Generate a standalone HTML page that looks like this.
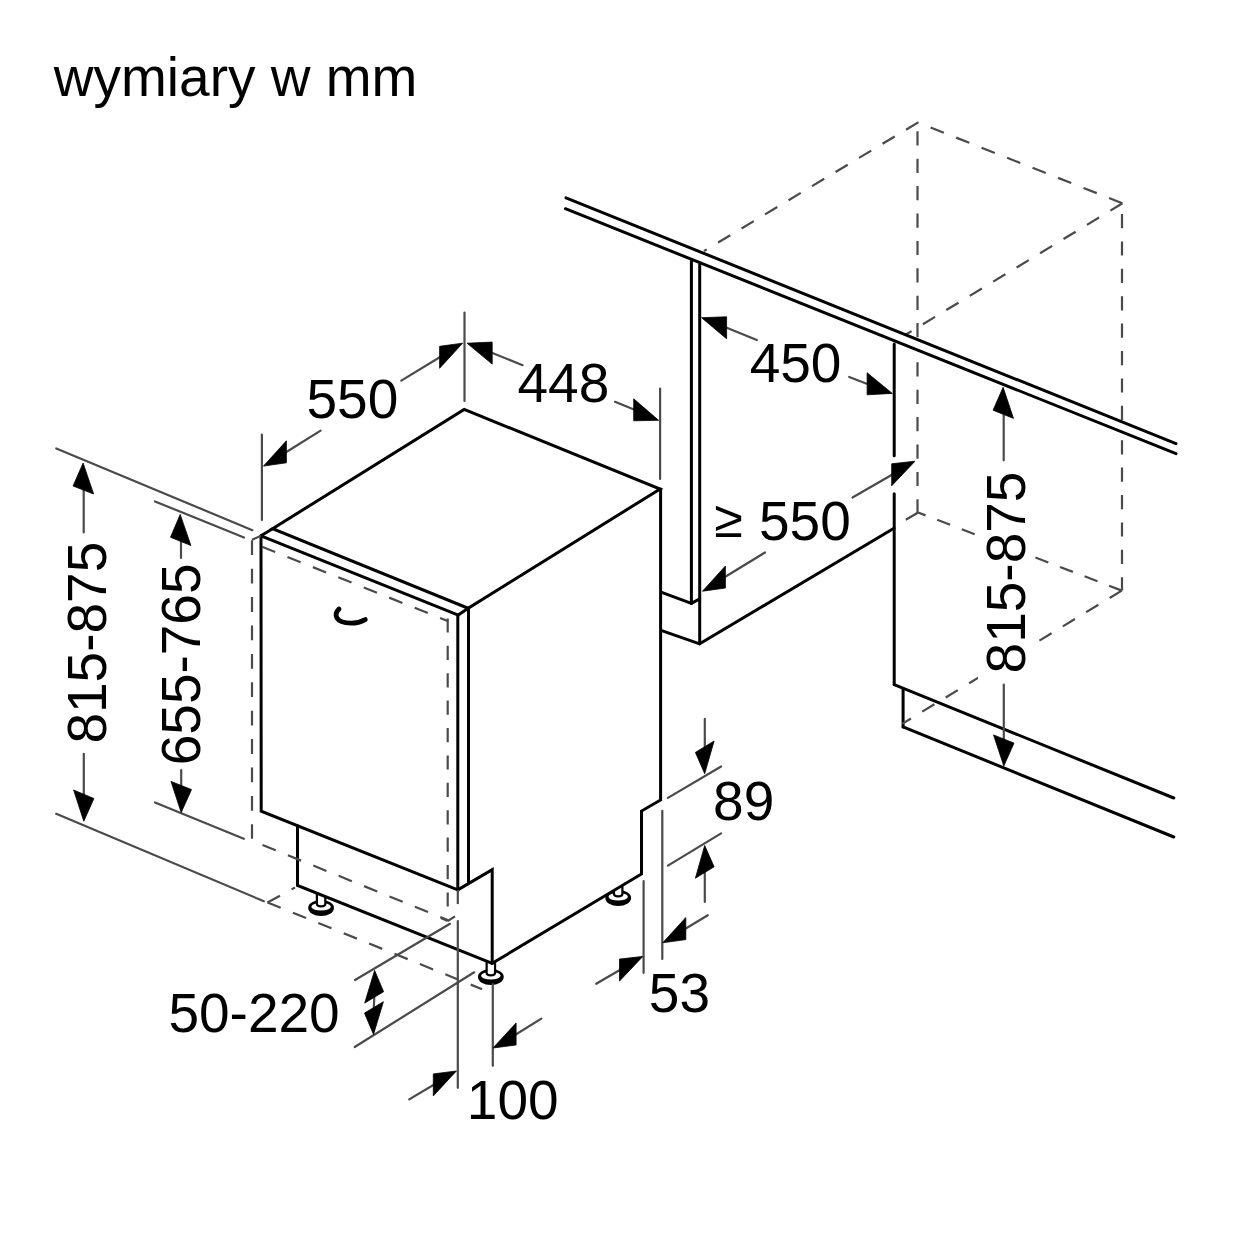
<!DOCTYPE html>
<html><head><meta charset="utf-8"><style>
html,body{margin:0;padding:0;background:#fff;}
body{width:1240px;height:1240px;overflow:hidden;}
svg{display:block;}
text{font-family:"Liberation Sans",sans-serif;fill:#000;}
</style></head><body>
<svg width="1240" height="1240" viewBox="0 0 1240 1240">
<rect width="1240" height="1240" fill="#fff"/>
<text x="53.8" y="95.6" font-size="55">wymiary w mm</text>
<line x1="691.4" y1="261.6" x2="691.4" y2="603.4" stroke="#000" stroke-width="3.0" stroke-linecap="round"/>
<line x1="699.7" y1="264.5" x2="699.7" y2="643.8" stroke="#000" stroke-width="3.0" stroke-linecap="round"/>
<path d="M661.0,592.1 L691.4,603.4 L699.7,598.9" fill="none" stroke="#000" stroke-width="3.0" stroke-linejoin="miter" stroke-linecap="round"/>
<line x1="661.0" y1="630.4" x2="699.7" y2="643.8" stroke="#000" stroke-width="3.0" stroke-linecap="round"/>
<line x1="699.7" y1="643.8" x2="894.0" y2="528.3" stroke="#000" stroke-width="3.0" stroke-linecap="round"/>
<line x1="894.2" y1="343.9" x2="894.2" y2="455.8" stroke="#000" stroke-width="3.0" stroke-linecap="round"/>
<line x1="894.2" y1="493.8" x2="894.2" y2="684.6" stroke="#000" stroke-width="3.0" stroke-linecap="round"/>
<path d="M894.2,684.6 L1173.8,798.0" fill="none" stroke="#000" stroke-width="3.0" stroke-linejoin="miter" stroke-linecap="round"/>
<line x1="903.1" y1="689.6" x2="903.1" y2="726.9" stroke="#000" stroke-width="3.0" stroke-linecap="round"/>
<path d="M903.1,726.9 L1173.8,837.0" fill="none" stroke="#000" stroke-width="3.0" stroke-linejoin="miter" stroke-linecap="round"/>
<line x1="918.2" y1="122.4" x2="704.0" y2="251.0" stroke="#4a4a4a" stroke-width="2.2" stroke-dasharray="14.2 13.20" stroke-dashoffset="0.00" stroke-linecap="butt"/>
<line x1="917.5" y1="122.4" x2="1122.5" y2="203.3" stroke="#4a4a4a" stroke-width="2.2" stroke-dasharray="14.2 13.20" stroke-dashoffset="13.30" stroke-linecap="butt"/>
<line x1="917.5" y1="122.4" x2="917.5" y2="339.5" stroke="#4a4a4a" stroke-width="2.2" stroke-dasharray="14.2 13.20" stroke-dashoffset="18.50" stroke-linecap="butt"/>
<line x1="917.5" y1="350.0" x2="917.5" y2="513.2" stroke="#4a4a4a" stroke-width="2.2" stroke-dasharray="14.2 13.20" stroke-dashoffset="15.10" stroke-linecap="butt"/>
<line x1="1122.0" y1="203.3" x2="1122.0" y2="421.7" stroke="#4a4a4a" stroke-width="2.2" stroke-dasharray="14.2 13.20" stroke-dashoffset="16.70" stroke-linecap="butt"/>
<line x1="1122.0" y1="432.0" x2="1122.0" y2="590.6" stroke="#4a4a4a" stroke-width="2.2" stroke-dasharray="14.2 13.20" stroke-dashoffset="19.20" stroke-linecap="butt"/>
<line x1="1122.5" y1="203.3" x2="905.5" y2="334.8" stroke="#4a4a4a" stroke-width="2.2" stroke-dasharray="14.2 13.20" stroke-dashoffset="0.00" stroke-linecap="butt"/>
<line x1="918.1" y1="512.5" x2="1121.8" y2="590.6" stroke="#4a4a4a" stroke-width="2.2" stroke-dasharray="13.8 12.50" stroke-dashoffset="5.80" stroke-linecap="butt"/>
<line x1="918.1" y1="512.5" x2="905.7" y2="519.8" stroke="#4a4a4a" stroke-width="2.2" stroke-dasharray="14.2 13.20" stroke-dashoffset="0.00" stroke-linecap="butt"/>
<line x1="1121.8" y1="590.6" x2="902.1" y2="723.9" stroke="#4a4a4a" stroke-width="2.2" stroke-dasharray="14.2 13.20" stroke-dashoffset="0.00" stroke-linecap="butt"/>
<path d="M566,197.8 L1176,443.7 L1176,453.7 L565.4,208.7 Z" fill="#fff"/>
<line x1="566.0" y1="197.8" x2="1176.0" y2="443.7" stroke="#000" stroke-width="3.0" stroke-linecap="round"/>
<line x1="565.4" y1="208.7" x2="1176.0" y2="453.7" stroke="#000" stroke-width="3.0" stroke-linecap="round"/>
<ellipse cx="321.1" cy="908" rx="12.9" ry="8" fill="#000"/>
<ellipse cx="321.1" cy="906.7" rx="9.7" ry="3.8" fill="#fff"/>
<path d="M316.90000000000003,892 L316.90000000000003,904 A4.2,2.3 0 0 0 325.3,904 L325.3,892" fill="#fff" stroke="#000" stroke-width="2.2"/>
<ellipse cx="490.85" cy="977" rx="12.9" ry="8" fill="#000"/>
<ellipse cx="490.85" cy="975.7" rx="9.7" ry="3.8" fill="#fff"/>
<path d="M486.65000000000003,961 L486.65000000000003,973 A4.2,2.3 0 0 0 495.05,973 L495.05,961" fill="#fff" stroke="#000" stroke-width="2.2"/>
<ellipse cx="618.2" cy="898" rx="12.9" ry="8" fill="#000"/>
<ellipse cx="618.2" cy="896.7" rx="9.7" ry="3.8" fill="#fff"/>
<path d="M614.0,882 L614.0,894 A4.2,2.3 0 0 0 622.4000000000001,894 L622.4000000000001,882" fill="#fff" stroke="#000" stroke-width="2.2"/>
<path d="M272.6,528.7 L464.2,409.4 L660.1,489 L660.6,800 L641.5,811 L641.5,874 L492.2,963.3 L297.5,885.5 L297.5,825.75 L261.25,811.25 L261,535.8 Z" fill="#fff" stroke="none"/>
<path d="M464.2,409.4 L660.1,489.0 L468.1,608.2 L272.6,528.7 L464.2,409.4 Z" fill="none" stroke="#000" stroke-width="3.0" stroke-linejoin="miter" stroke-linecap="round"/>
<line x1="261.0" y1="535.8" x2="272.6" y2="528.7" stroke="#000" stroke-width="3.0" stroke-linecap="round"/>
<line x1="261.0" y1="535.8" x2="458.3" y2="615.1" stroke="#000" stroke-width="3.0" stroke-linecap="round"/>
<line x1="458.3" y1="615.1" x2="468.1" y2="608.2" stroke="#000" stroke-width="3.0" stroke-linecap="round"/>
<path d="M261.0,535.8 L261.2,811.2 L457.8,889.9" fill="none" stroke="#000" stroke-width="3.0" stroke-linejoin="miter" stroke-linecap="round"/>
<line x1="457.8" y1="615.1" x2="457.8" y2="889.9" stroke="#000" stroke-width="3.0" stroke-linecap="round"/>
<line x1="468.5" y1="608.2" x2="468.5" y2="881.4" stroke="#000" stroke-width="3.0" stroke-linecap="round"/>
<path d="M457.8,889.9 L492.2,869.6 L492.2,963.3" fill="none" stroke="#000" stroke-width="3.0" stroke-linejoin="miter" stroke-linecap="round"/>
<path d="M660.6,489.0 L660.6,800.0 L641.5,811.0 L641.5,874.0 L492.2,963.3" fill="none" stroke="#000" stroke-width="3.0" stroke-linejoin="miter" stroke-linecap="round"/>
<path d="M297.5,825.8 L297.5,885.5 L492.2,963.3" fill="none" stroke="#000" stroke-width="3.0" stroke-linejoin="miter" stroke-linecap="round"/>
<path d="M339,609 C333.5,614.5 335,622.5 351,623.2 C357,623.3 361.5,621.6 365.3,619.6" fill="none" stroke="#000" stroke-width="4.8" stroke-linecap="round"/>
<line x1="252.0" y1="539.7" x2="252.0" y2="838.8" stroke="#4a4a4a" stroke-width="2.2" stroke-dasharray="14.8 13.60" stroke-dashoffset="27.80" stroke-linecap="butt"/>
<line x1="252.0" y1="539.7" x2="261.0" y2="535.8" stroke="#4a4a4a" stroke-width="2.2" stroke-dasharray="14.2 13.20" stroke-dashoffset="0.00" stroke-linecap="butt"/>
<line x1="262.0" y1="546.8" x2="447.7" y2="621.0" stroke="#4a4a4a" stroke-width="2.2" stroke-dasharray="14.2 13.20" stroke-dashoffset="0.00" stroke-linecap="butt"/>
<line x1="447.7" y1="618.4" x2="447.7" y2="921.0" stroke="#4a4a4a" stroke-width="2.2" stroke-dasharray="14.2 13.20" stroke-dashoffset="0.00" stroke-linecap="butt"/>
<line x1="262.5" y1="845.0" x2="447.7" y2="920.0" stroke="#4a4a4a" stroke-width="2.2" stroke-dasharray="14.2 13.20" stroke-dashoffset="0.00" stroke-linecap="butt"/>
<line x1="267.5" y1="902.5" x2="482.1" y2="989.2" stroke="#4a4a4a" stroke-width="2.2" stroke-dasharray="14.2 13.20" stroke-dashoffset="0.00" stroke-linecap="butt"/>
<line x1="267.5" y1="902.5" x2="295.0" y2="887.5" stroke="#4a4a4a" stroke-width="2.2" stroke-dasharray="14.2 13.20" stroke-dashoffset="0.00" stroke-linecap="butt"/>
<line x1="440.9" y1="918.1" x2="447.7" y2="921.0" stroke="#4a4a4a" stroke-width="2.2" stroke-dasharray="14.2 13.20" stroke-dashoffset="0.00" stroke-linecap="butt"/>
<line x1="447.7" y1="921.0" x2="455.0" y2="916.4" stroke="#4a4a4a" stroke-width="2.2" stroke-dasharray="14.2 13.20" stroke-dashoffset="0.00" stroke-linecap="butt"/>
<line x1="457.8" y1="889.9" x2="457.8" y2="906.0" stroke="#4a4a4a" stroke-width="2.2" stroke-dasharray="14.2 13.20" stroke-dashoffset="0.00" stroke-linecap="butt"/>
<line x1="56.3" y1="448.5" x2="252.4" y2="530.2" stroke="#4a4a4a" stroke-width="2.2" stroke-linecap="round"/>
<line x1="155.0" y1="501.4" x2="244.0" y2="537.6" stroke="#4a4a4a" stroke-width="2.2" stroke-linecap="round"/>
<line x1="56.2" y1="813.8" x2="263.8" y2="901.2" stroke="#4a4a4a" stroke-width="2.2" stroke-linecap="round"/>
<line x1="155.0" y1="802.5" x2="243.8" y2="838.8" stroke="#4a4a4a" stroke-width="2.2" stroke-linecap="round"/>
<line x1="83.7" y1="480.0" x2="83.7" y2="532.4" stroke="#4a4a4a" stroke-width="2.2" stroke-linecap="round"/>
<line x1="83.8" y1="753.8" x2="83.8" y2="800.0" stroke="#4a4a4a" stroke-width="2.2" stroke-linecap="round"/>
<text x="0" y="0" transform="translate(105.7,743.6) rotate(-90)" font-size="55">815-875</text>
<line x1="181.0" y1="530.0" x2="181.0" y2="558.0" stroke="#4a4a4a" stroke-width="2.2" stroke-linecap="round"/>
<line x1="181.2" y1="770.0" x2="181.2" y2="795.0" stroke="#4a4a4a" stroke-width="2.2" stroke-linecap="round"/>
<text x="0" y="0" transform="translate(200.0,765.3) rotate(-90)" font-size="55">655-765</text>
<line x1="261.9" y1="434.5" x2="261.9" y2="520.0" stroke="#4a4a4a" stroke-width="2.2" stroke-linecap="round"/>
<line x1="464.5" y1="312.5" x2="464.5" y2="401.0" stroke="#4a4a4a" stroke-width="2.2" stroke-linecap="round"/>
<line x1="660.1" y1="388.7" x2="660.1" y2="479.0" stroke="#4a4a4a" stroke-width="2.2" stroke-linecap="round"/>
<line x1="280.0" y1="456.0" x2="320.6" y2="430.6" stroke="#4a4a4a" stroke-width="2.2" stroke-linecap="round"/>
<line x1="445.0" y1="354.0" x2="401.3" y2="380.6" stroke="#4a4a4a" stroke-width="2.2" stroke-linecap="round"/>
<text x="306.5" y="418.2" font-size="55">550</text>
<line x1="485.0" y1="350.0" x2="522.6" y2="365.2" stroke="#4a4a4a" stroke-width="2.2" stroke-linecap="round"/>
<line x1="640.0" y1="412.0" x2="615.0" y2="401.8" stroke="#4a4a4a" stroke-width="2.2" stroke-linecap="round"/>
<text x="517.5" y="401.9" font-size="55">448</text>
<line x1="720.0" y1="325.0" x2="756.8" y2="340.0" stroke="#4a4a4a" stroke-width="2.2" stroke-linecap="round"/>
<line x1="870.0" y1="385.0" x2="849.2" y2="377.0" stroke="#4a4a4a" stroke-width="2.2" stroke-linecap="round"/>
<text x="749.7" y="382.0" font-size="55">450</text>
<line x1="720.0" y1="580.0" x2="765.0" y2="552.5" stroke="#4a4a4a" stroke-width="2.2" stroke-linecap="round"/>
<line x1="895.0" y1="473.0" x2="852.5" y2="497.5" stroke="#4a4a4a" stroke-width="2.2" stroke-linecap="round"/>
<text x="714.3" y="537.3" font-size="52">≥</text>
<text x="759.0" y="539.5" font-size="55">550</text>
<line x1="1003.7" y1="405.0" x2="1003.7" y2="460.3" stroke="#4a4a4a" stroke-width="2.2" stroke-linecap="round"/>
<line x1="1003.8" y1="684.6" x2="1003.8" y2="745.0" stroke="#4a4a4a" stroke-width="2.2" stroke-linecap="round"/>
<rect x="978" y="466" width="57" height="214" fill="#fff"/>
<text x="0" y="0" transform="translate(1024.5,673.4) rotate(-90)" font-size="55">815-875</text>
<line x1="704.8" y1="718.9" x2="704.8" y2="750.0" stroke="#4a4a4a" stroke-width="2.2" stroke-linecap="round"/>
<line x1="667.9" y1="797.9" x2="721.1" y2="766.5" stroke="#4a4a4a" stroke-width="2.2" stroke-linecap="round"/>
<line x1="704.8" y1="870.0" x2="704.8" y2="901.9" stroke="#4a4a4a" stroke-width="2.2" stroke-linecap="round"/>
<line x1="667.9" y1="865.6" x2="721.1" y2="833.4" stroke="#4a4a4a" stroke-width="2.2" stroke-linecap="round"/>
<text x="713.1" y="820.0" font-size="55">89</text>
<line x1="643.6" y1="881.0" x2="643.6" y2="972.8" stroke="#4a4a4a" stroke-width="2.2" stroke-linecap="round"/>
<line x1="662.3" y1="810.8" x2="662.3" y2="959.0" stroke="#4a4a4a" stroke-width="2.2" stroke-linecap="round"/>
<line x1="680.0" y1="932.0" x2="707.8" y2="915.2" stroke="#4a4a4a" stroke-width="2.2" stroke-linecap="round"/>
<line x1="625.0" y1="967.0" x2="596.2" y2="983.8" stroke="#4a4a4a" stroke-width="2.2" stroke-linecap="round"/>
<text x="648.8" y="1012.0" font-size="55">53</text>
<line x1="355.0" y1="980.0" x2="450.0" y2="923.8" stroke="#4a4a4a" stroke-width="2.2" stroke-linecap="round"/>
<line x1="354.7" y1="1047.0" x2="474.2" y2="972.3" stroke="#4a4a4a" stroke-width="2.2" stroke-linecap="round"/>
<line x1="374.6" y1="990.0" x2="373.5" y2="1015.0" stroke="#4a4a4a" stroke-width="2.2" stroke-linecap="round"/>
<text x="168.4" y="1032.0" font-size="55">50-220</text>
<line x1="457.8" y1="921.0" x2="457.8" y2="1087.8" stroke="#4a4a4a" stroke-width="2.2" stroke-linecap="round"/>
<line x1="492.8" y1="984.0" x2="492.8" y2="1065.8" stroke="#4a4a4a" stroke-width="2.2" stroke-linecap="round"/>
<line x1="435.0" y1="1084.0" x2="409.2" y2="1099.4" stroke="#4a4a4a" stroke-width="2.2" stroke-linecap="round"/>
<line x1="515.0" y1="1035.0" x2="541.3" y2="1018.6" stroke="#4a4a4a" stroke-width="2.2" stroke-linecap="round"/>
<text x="466.8" y="1118.8" font-size="55">100</text>
<path d="M83.1,463.0 L93.6,494.0 L73.1,486.0 Z" fill="#000" stroke="#000" stroke-width="0.8" stroke-linejoin="miter"/>
<path d="M83.8,821.2 L93.9,798.5 L73.6,790.0 Z" fill="#000" stroke="#000" stroke-width="0.8" stroke-linejoin="miter"/>
<path d="M180.2,514.4 L190.9,545.5 L170.5,537.3 Z" fill="#000" stroke="#000" stroke-width="0.8" stroke-linejoin="miter"/>
<path d="M181.2,812.5 L191.5,789.6 L171.0,781.4 Z" fill="#000" stroke="#000" stroke-width="0.8" stroke-linejoin="miter"/>
<path d="M263.5,466.1 L286.4,462.8 L286.4,440.8 Z" fill="#000" stroke="#000" stroke-width="0.8" stroke-linejoin="miter"/>
<path d="M462.6,343.2 L439.6,368.3 L439.6,346.3 Z" fill="#000" stroke="#000" stroke-width="0.8" stroke-linejoin="miter"/>
<path d="M467.1,343.2 L492.2,364.1 L492.2,342.1 Z" fill="#000" stroke="#000" stroke-width="0.8" stroke-linejoin="miter"/>
<path d="M658.6,420.3 L633.7,420.8 L633.7,398.8 Z" fill="#000" stroke="#000" stroke-width="0.8" stroke-linejoin="miter"/>
<path d="M701.6,317.7 L726.6,338.8 L726.6,316.8 Z" fill="#000" stroke="#000" stroke-width="0.8" stroke-linejoin="miter"/>
<path d="M892.3,393.4 L867.1,394.8 L867.1,372.8 Z" fill="#000" stroke="#000" stroke-width="0.8" stroke-linejoin="miter"/>
<path d="M702.5,591.2 L725.4,588.0 L725.4,566.0 Z" fill="#000" stroke="#000" stroke-width="0.8" stroke-linejoin="miter"/>
<path d="M915.0,461.2 L891.7,485.8 L891.7,463.8 Z" fill="#000" stroke="#000" stroke-width="0.8" stroke-linejoin="miter"/>
<path d="M1003.1,387.3 L1013.5,418.4 L993.1,410.2 Z" fill="#000" stroke="#000" stroke-width="0.8" stroke-linejoin="miter"/>
<path d="M1003.8,766.0 L1014.0,743.1 L993.5,734.9 Z" fill="#000" stroke="#000" stroke-width="0.8" stroke-linejoin="miter"/>
<path d="M704.7,773.7 L714.1,741.0 L695.4,752.4 Z" fill="#000" stroke="#000" stroke-width="0.8" stroke-linejoin="miter"/>
<path d="M704.7,845.5 L714.1,866.8 L695.4,878.2 Z" fill="#000" stroke="#000" stroke-width="0.8" stroke-linejoin="miter"/>
<path d="M662.8,942.7 L685.8,939.6 L685.8,917.6 Z" fill="#000" stroke="#000" stroke-width="0.8" stroke-linejoin="miter"/>
<path d="M642.8,956.4 L619.5,981.1 L619.5,959.1 Z" fill="#000" stroke="#000" stroke-width="0.8" stroke-linejoin="miter"/>
<path d="M374.6,970.4 L383.6,991.7 L364.7,1003.1 Z" fill="#000" stroke="#000" stroke-width="0.8" stroke-linejoin="miter"/>
<path d="M373.5,1034.4 L383.4,1001.7 L364.5,1013.1 Z" fill="#000" stroke="#000" stroke-width="0.8" stroke-linejoin="miter"/>
<path d="M456.4,1071.0 L433.3,1095.9 L433.3,1073.9 Z" fill="#000" stroke="#000" stroke-width="0.8" stroke-linejoin="miter"/>
<path d="M493.0,1048.0 L516.1,1045.0 L516.1,1023.0 Z" fill="#000" stroke="#000" stroke-width="0.8" stroke-linejoin="miter"/>
</svg></body></html>
